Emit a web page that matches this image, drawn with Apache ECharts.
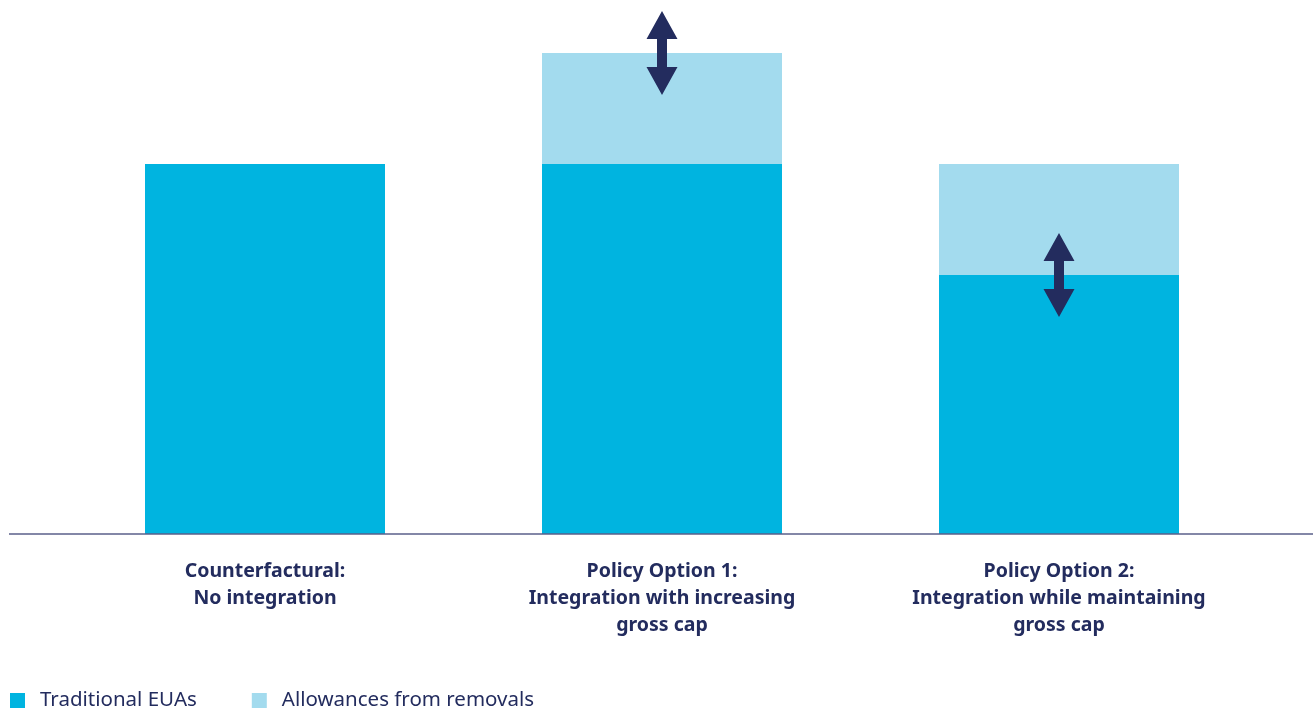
<!DOCTYPE html>
<html>
<head>
<meta charset="utf-8">
<script src="https://cdn.jsdelivr.net/npm/echarts@6/dist/echarts.min.js"></script>
<style>
html,body{margin:0;padding:0;background:#fff;}
#chart{width:1313px;height:709px;}
</style>
</head>
<body>
<div id="chart"></div>
<script>
var categories = [
  'Counterfactural:\nNo integration',
  'Policy Option 1:\nIntegration with increasing\ngross cap',
  'Policy Option 2:\nIntegration while maintaining\ngross cap'
];
var traditionalEUAs = [100, 100, 70];
var removalAllowances = [0, 30, 30];
// where the double arrows sit: [category index, value]
var arrowPoints = [[1, 130], [2, 70]];

var navy = '#232c5e';
var font = 'Noto Sans';
var arrowPath = 'path://M15.5,0 L31,28 L20.5,28 L20.5,56 L31,56 L15.5,84 L0,56 L10.5,56 L10.5,28 L0,28 Z';

var myChart = echarts.init(document.getElementById('chart'));
var option = {
  animation: false,
  textStyle: { fontFamily: font },
  grid: { left: 66.5, width: 1191, top: 1.2, bottom: 175 },
  legend: {
    left: 5,
    top: 685,
    itemWidth: 15,
    itemHeight: 15,
    itemGap: 55,
    icon: 'rect',
    textStyle: { fontSize: 20.5, color: navy, fontFamily: font, padding: [0, 0, 0, 10] },
    data: ['Traditional EUAs', 'Allowances from removals']
  },
  xAxis: {
    type: 'category',
    data: categories,
    axisLine: { show: false },
    axisTick: { show: false },
    axisLabel: {
      margin: 24,
      fontSize: 19.5,
      lineHeight: 27,
      fontWeight: 'bold',
      color: navy,
      fontFamily: font,
      align: 'center'
    }
  },
  yAxis: {
    type: 'value',
    min: 0,
    max: 144,
    show: false,
    splitLine: { show: false }
  },
  graphic: [{
    type: 'line',
    shape: { x1: 9, y1: 534, x2: 1313, y2: 534 },
    style: { stroke: '#5a5f8a', lineWidth: 1.5 },
    z: 10
  }],
  series: [
    {
      name: 'Traditional EUAs',
      type: 'bar',
      stack: 'total',
      barWidth: 240,
      itemStyle: { color: '#00b4e0' },
      data: traditionalEUAs
    },
    {
      name: 'Allowances from removals',
      type: 'bar',
      stack: 'total',
      barWidth: 240,
      itemStyle: { color: '#a3dbee' },
      data: removalAllowances
    },
    {
      type: 'scatter',
      symbol: arrowPath,
      symbolSize: [31, 84],
      itemStyle: { color: navy, opacity: 1 },
      z: 5,
      data: arrowPoints
    }
  ]
};
myChart.setOption(option);
</script>
</body>
</html>
